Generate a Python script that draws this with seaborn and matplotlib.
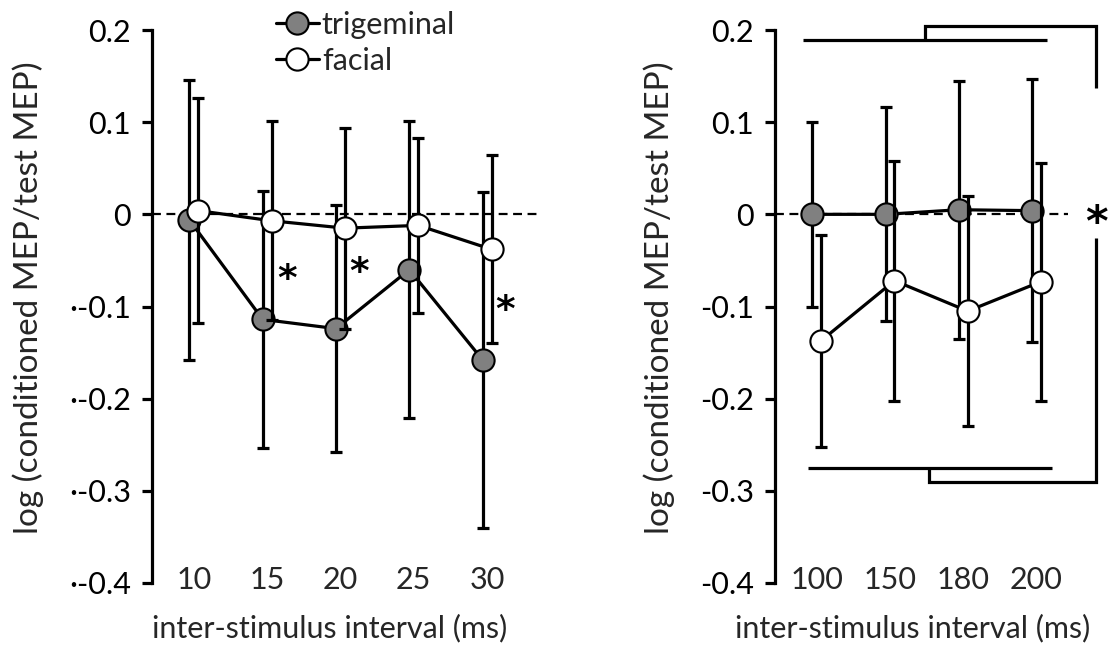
import matplotlib
matplotlib.use("Agg")
import matplotlib.pyplot as plt
from matplotlib.lines import Line2D
import numpy as np
import pandas as pd
import seaborn as sns

# ---------------- data ----------------
isi_short = ["10", "15", "20", "25", "30"]
trig_short = [-0.006, -0.114, -0.124, -0.060, -0.158]
trig_short_sd = [0.152, 0.139, 0.134, 0.161, 0.182]
facial_short = [0.004, -0.007, -0.015, -0.012, -0.038]
facial_short_sd = [0.122, 0.108, 0.109, 0.095, 0.102]

isi_long = ["100", "150", "180", "200"]
trig_long = [0.000, 0.000, 0.005, 0.004]
trig_long_sd = [0.100, 0.116, 0.140, 0.143]
facial_long = [-0.137, -0.072, -0.105, -0.073]
facial_long_sd = [0.115, 0.130, 0.125, 0.129]

yticks = [-0.4, -0.3, -0.2, -0.1, 0.0, 0.1, 0.2]
ytick_labels_left = ["·-0.4", "·-0.3", "·-0.2", "·-0.1", "0", "0.1", "0.2"]
ytick_labels_right = ["-0.4", "-0.3", "-0.2", "-0.1", "0", "0.1", "0.2"]
sig_short = ["15", "20", "30"]

# ---------------- style ----------------
sns.set_theme(style="white")
plt.rcParams["font.family"] = ["Lato", "DejaVu Sans"]
FS = 22
GRAY = "#808080"
LW = 2.3
MS = 16
OFF = 0.061

fig = plt.figure(figsize=(11.16, 6.5), dpi=100)
W, H = 1116, 650
ax1 = fig.add_axes([152 / W, 1 - 583 / H, 385 / W, 553 / H])
ax2 = fig.add_axes([775 / W, 1 - 583 / H, 293 / W, 553 / H])


def panel(ax, cats, trig, trig_sd, fac, fac_sd, xmax, ylabels):
    n = len(cats)
    idx = np.arange(n)
    df = pd.DataFrame({
        "pos": np.concatenate([idx - OFF, idx + OFF]),
        "val": list(trig) + list(fac),
        "sd": list(trig_sd) + list(fac_sd),
        "series": ["trigeminal"] * n + ["facial"] * n,
    })
    ax.axhline(0, color="black", lw=1.6, ls=(0, (4, 2.5)), zorder=1)
    t = df[df.series == "trigeminal"]
    f = df[df.series == "facial"]
    ax.errorbar(t.pos, t.val, yerr=t.sd, fmt="none", ecolor="black",
                elinewidth=LW, capsize=4, capthick=LW, zorder=2)
    sns.lineplot(data=t, x="pos", y="val", ax=ax, color="black", lw=LW,
                 marker="o", markersize=MS, markerfacecolor=GRAY,
                 markeredgecolor="black", markeredgewidth=1.5, zorder=3,
                 sort=False)
    ax.errorbar(f.pos, f.val, yerr=f.sd, fmt="none", ecolor="black",
                elinewidth=LW, capsize=4, capthick=LW, zorder=4)
    sns.lineplot(data=f, x="pos", y="val", ax=ax, color="black", lw=LW,
                 marker="o", markersize=MS, markerfacecolor="white",
                 markeredgecolor="black", markeredgewidth=1.5, zorder=5,
                 sort=False)
    ax.set_xlim(-0.57, xmax)
    ax.set_ylim(-0.4, 0.2)
    ax.set_xticks(idx)
    ax.set_xticklabels(cats, fontsize=FS)
    ax.set_yticks(yticks)
    ax.set_yticklabels(ylabels, fontsize=FS)
    ax.tick_params(axis="x", length=0, pad=-12)
    ax.tick_params(axis="y", length=7, width=LW, direction="out", pad=8,
                   left=True, colors="black")
    for s in ["top", "right", "bottom"]:
        ax.spines[s].set_visible(False)
    ax.spines["left"].set_linewidth(LW)
    ax.spines["left"].set_color("black")
    ax.set_facecolor("none")
    ax.set_xlabel("inter-stimulus interval (ms)", fontsize=FS, va="center")
    ax.set_ylabel("log (conditioned MEP/test MEP)", fontsize=FS + 2,
                  va="center")
    leg = ax.get_legend()
    if leg is not None:
        leg.remove()


panel(ax1, isi_short, trig_short, trig_short_sd, facial_short, facial_short_sd,
      4.68, ytick_labels_left)
panel(ax2, isi_long, trig_long, trig_long_sd, facial_long, facial_long_sd,
      3.43, ytick_labels_right)

ax1.xaxis.set_label_coords((330 - 152) / 385, (583 - 628) / 553)
ax2.xaxis.set_label_coords((913 - 775) / 293, (583 - 628) / 553)
ax1.yaxis.set_label_coords((28 - 152) / 385, (583 - 298) / 553)
ax2.yaxis.set_label_coords((659 - 775) / 293, (583 - 298) / 553)

# significance asterisks (left panel)
ast_pos = {"15": (1.27, -0.064), "20": (2.25, -0.057), "30": (4.24, -0.098)}
for c in sig_short:
    x, y = ast_pos[c]
    ax1.text(x, y - 0.007, "*", fontsize=27, fontweight="bold", ha="center",
             va="center", color="black", zorder=6, family="DejaVu Sans")

# brackets (right panel)
bk = dict(color="black", lw=LW, clip_on=False, solid_capstyle="butt",
          solid_joinstyle="miter")
ax2.plot([-0.188, 3.137], [0.189, 0.189], **bk)
ax2.plot([1.476, 1.476, 3.81, 3.81], [0.189, 0.204, 0.204, 0.137], **bk)
ax2.plot([-0.124, 3.205], [-0.275, -0.275], **bk)
ax2.plot([1.53, 1.53, 3.81, 3.81], [-0.275, -0.290, -0.290, -0.026], **bk)
ax2.text(3.823, -0.011, "*", fontsize=31, fontweight="bold", ha="center",
         va="center", color="black", clip_on=False, family="DejaVu Sans")

# legend
handles = [
    Line2D([], [], color="black", lw=LW, marker="o", markersize=MS,
           markerfacecolor=GRAY, markeredgecolor="black", markeredgewidth=1.5),
    Line2D([], [], color="black", lw=LW, marker="o", markersize=MS,
           markerfacecolor="white", markeredgecolor="black", markeredgewidth=1.5),
]
fig.legend(handles, ["trigeminal", "facial"], loc="upper left",
           bbox_to_anchor=(276 / W, 1 - 11 / H), frameon=False, fontsize=FS,
           handlelength=1.4, handletextpad=0.1, labelspacing=0.25,
           borderpad=0, borderaxespad=0)

fig.savefig("out.png", dpi=100)
